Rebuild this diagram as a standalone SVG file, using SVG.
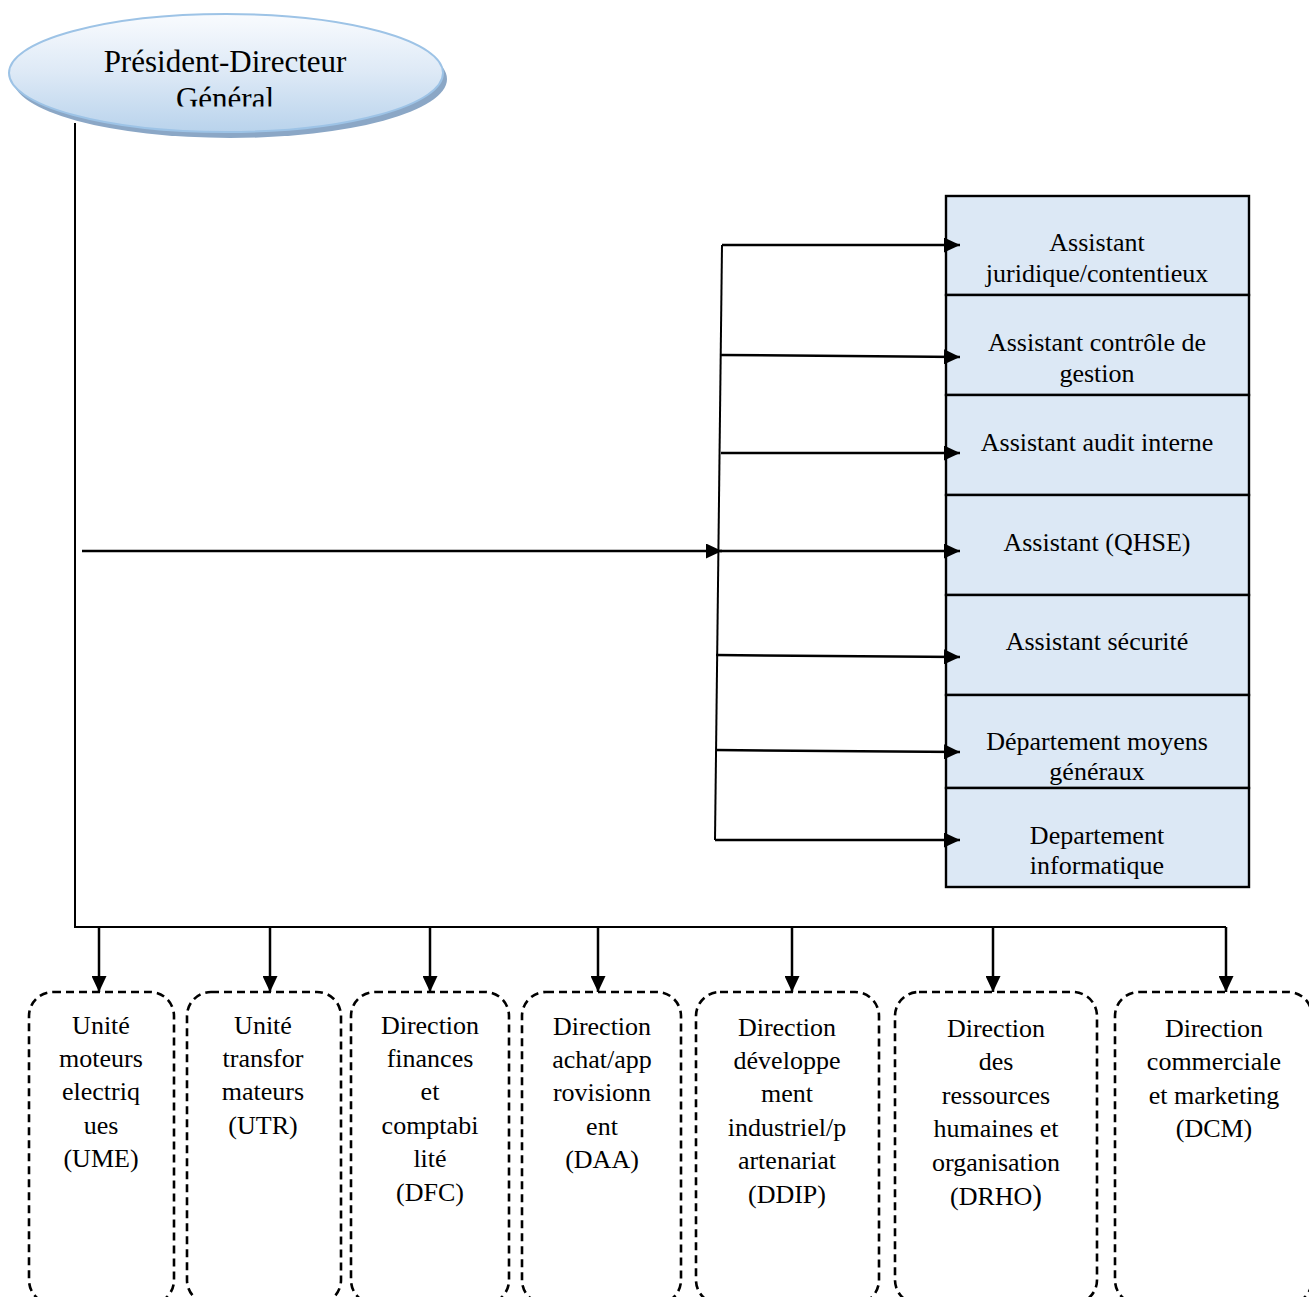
<svg xmlns="http://www.w3.org/2000/svg" width="1309" height="1297" viewBox="0 0 1309 1297">
  <style>
    text { font-family: "Liberation Serif", "Times New Roman", serif; fill: #000; text-anchor: middle; }
    .lbl { font-size: 26px; }
    .head { font-size: 31px; }
    .cell { fill: #dce8f5; stroke: #000; stroke-width: 2.4; }
    .unit { fill: #fff; stroke: #000; stroke-width: 2.6; stroke-dasharray: 8 5; }
    .wire { fill: none; stroke: #000; stroke-width: 2; }
    .arrow { fill: none; stroke: #000; stroke-width: 2.5; marker-end: url(#tip); }
  </style>
  <defs>
    <marker id="tip" markerUnits="userSpaceOnUse" markerWidth="16" markerHeight="15" refX="16" refY="7.5" orient="auto">
      <path d="M0,0 L16,7.5 L0,15 z" fill="#000"/>
    </marker>
    <linearGradient id="ovalFill" x1="0" y1="0" x2="0" y2="1">
      <stop offset="0" stop-color="#f9fbfe"/>
      <stop offset="0.5" stop-color="#dde9f6"/>
      <stop offset="1" stop-color="#b9d3ec"/>
    </linearGradient>
    <clipPath id="headClip">
      <rect x="0" y="0" width="460" height="106.5"/>
    </clipPath>
  </defs>

  <rect width="1309" height="1297" fill="#fff"/>

  <!-- top of the hierarchy -->
  <g id="pdg">
    <ellipse cx="230" cy="79" rx="217" ry="59" fill="#8ba7c6"/>
    <ellipse cx="226" cy="73" rx="217" ry="59" fill="url(#ovalFill)" stroke="#9dc3e6" stroke-width="2"/>
    <g clip-path="url(#headClip)">
      <text class="head" x="225" y="72">Président-Directeur</text>
      <text class="head" x="225" y="108.5">Général</text>
    </g>
  </g>

  <!-- staff functions column -->
  <g id="staff-juridique">
    <rect class="cell" x="946" y="196" width="303" height="99"/>
    <text class="lbl" x="1097" y="251">Assistant</text>
    <text class="lbl" x="1097" y="282">juridique/contentieux</text>
  </g>
  <g id="staff-controle">
    <rect class="cell" x="946" y="295" width="303" height="100"/>
    <text class="lbl" x="1097" y="351">Assistant contrôle de</text>
    <text class="lbl" x="1097" y="382">gestion</text>
  </g>
  <g id="staff-audit">
    <rect class="cell" x="946" y="395" width="303" height="100"/>
    <text class="lbl" x="1097" y="451">Assistant audit interne</text>
  </g>
  <g id="staff-qhse">
    <rect class="cell" x="946" y="495" width="303" height="100"/>
    <text class="lbl" x="1097" y="551">Assistant (QHSE)</text>
  </g>
  <g id="staff-securite">
    <rect class="cell" x="946" y="595" width="303" height="100"/>
    <text class="lbl" x="1097" y="650">Assistant sécurité</text>
  </g>
  <g id="staff-moyens">
    <rect class="cell" x="946" y="695" width="303" height="93"/>
    <text class="lbl" x="1097" y="750">Département moyens</text>
    <text class="lbl" x="1097" y="780">généraux</text>
  </g>
  <g id="staff-info">
    <rect class="cell" x="946" y="788" width="303" height="99"/>
    <text class="lbl" x="1097" y="844">Departement</text>
    <text class="lbl" x="1097" y="874">informatique</text>
  </g>

  <!-- operational directions -->
  <g id="dir-ume">
    <rect class="unit" x="29" y="992" width="145" height="312" rx="24"/>
    <text class="lbl" x="101" y="1034">Unité</text>
    <text class="lbl" x="101" y="1067">moteurs</text>
    <text class="lbl" x="101" y="1100">electriq</text>
    <text class="lbl" x="101" y="1134">ues</text>
    <text class="lbl" x="101" y="1167">(UME)</text>
  </g>
  <g id="dir-utr">
    <rect class="unit" x="187" y="992" width="154" height="312" rx="24"/>
    <text class="lbl" x="263" y="1034">Unité</text>
    <text class="lbl" x="263" y="1067">transfor</text>
    <text class="lbl" x="263" y="1100">mateurs</text>
    <text class="lbl" x="263" y="1134">(UTR)</text>
  </g>
  <g id="dir-dfc">
    <rect class="unit" x="351" y="992" width="158" height="312" rx="24"/>
    <text class="lbl" x="430" y="1034">Direction</text>
    <text class="lbl" x="430" y="1067">finances</text>
    <text class="lbl" x="430" y="1100">et</text>
    <text class="lbl" x="430" y="1134">comptabi</text>
    <text class="lbl" x="430" y="1167">lité</text>
    <text class="lbl" x="430" y="1201">(DFC)</text>
  </g>
  <g id="dir-daa">
    <rect class="unit" x="522" y="992" width="159" height="312" rx="24"/>
    <text class="lbl" x="602" y="1035">Direction</text>
    <text class="lbl" x="602" y="1068">achat/app</text>
    <text class="lbl" x="602" y="1101">rovisionn</text>
    <text class="lbl" x="602" y="1135">ent</text>
    <text class="lbl" x="602" y="1168">(DAA)</text>
  </g>
  <g id="dir-ddip">
    <rect class="unit" x="696" y="992" width="183" height="312" rx="24"/>
    <text class="lbl" x="787" y="1036">Direction</text>
    <text class="lbl" x="787" y="1069">développe</text>
    <text class="lbl" x="787" y="1102">ment</text>
    <text class="lbl" x="787" y="1136">industriel/p</text>
    <text class="lbl" x="787" y="1169">artenariat</text>
    <text class="lbl" x="787" y="1203">(DDIP)</text>
  </g>
  <g id="dir-drho">
    <rect class="unit" x="895" y="992" width="202" height="312" rx="24"/>
    <text class="lbl" x="996" y="1037">Direction</text>
    <text class="lbl" x="996" y="1070">des</text>
    <text class="lbl" x="996" y="1104">ressources</text>
    <text class="lbl" x="996" y="1137">humaines et</text>
    <text class="lbl" x="996" y="1171">organisation</text>
    <text class="lbl" x="996" y="1205">(DRHO<tspan font-size="29">)</tspan></text>
  </g>
  <g id="dir-dcm">
    <rect class="unit" x="1115" y="992" width="197" height="312" rx="24"/>
    <text class="lbl" x="1214" y="1037">Direction</text>
    <text class="lbl" x="1214" y="1070">commerciale</text>
    <text class="lbl" x="1214" y="1104">et marketing</text>
    <text class="lbl" x="1214" y="1137">(DCM)</text>
  </g>

  <!-- reporting lines -->
  <g id="connectors">
    <path class="wire" d="M75,123 V927 H1226"/>
    <path class="arrow" d="M99,927 V992"/>
    <path class="arrow" d="M270,927 V992"/>
    <path class="arrow" d="M430,927 V992"/>
    <path class="arrow" d="M598,927 V992"/>
    <path class="arrow" d="M792,927 V992"/>
    <path class="arrow" d="M993,927 V992"/>
    <path class="arrow" d="M1226,927 V992"/>

    <path class="arrow" d="M82,551 H722"/>
    <path class="wire" d="M722,245 L715,840"/>
    <path class="arrow" d="M722,245 H960"/>
    <path class="arrow" d="M721,355 L960,357"/>
    <path class="arrow" d="M721,453 H960"/>
    <path class="arrow" d="M720,551 H960"/>
    <path class="arrow" d="M716,655 L960,657"/>
    <path class="arrow" d="M716,750 L960,752"/>
    <path class="arrow" d="M715,840 H960"/>
  </g>
</svg>
